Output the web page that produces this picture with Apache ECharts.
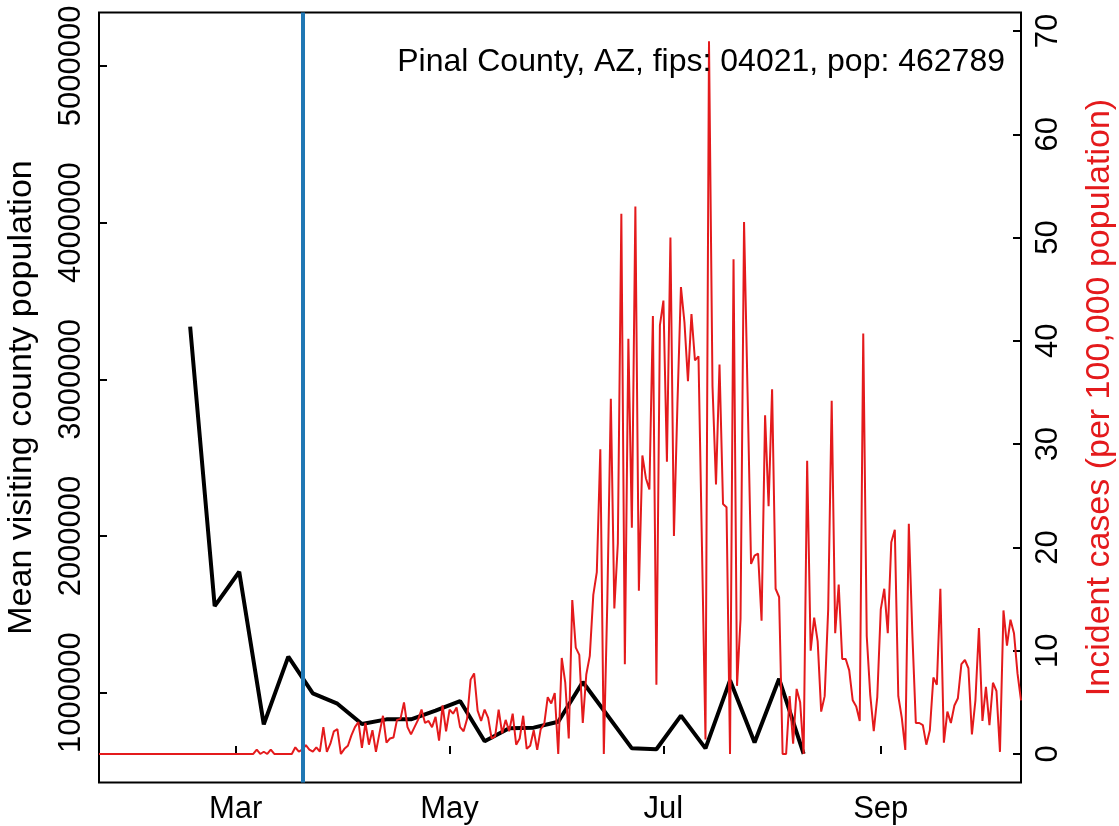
<!DOCTYPE html>
<html><head><meta charset="utf-8">
<script src="https://cdn.jsdelivr.net/npm/echarts@6/dist/echarts.min.js"></script>
<style>html,body{margin:0;padding:0;background:#fff}#c{width:1119px;height:826px}</style>
</head><body><div id="c"></div>
<script>
// ---- data ----
const caseStartDate = '2020-01-22';
const xMinDate = '2020-01-22';
const xMaxDate = '2020-10-11';
const incidentCases = [
 0,0,0,0,0,0,0,0,0,0, 0,0,0,0,0,0,0,0,0,0,
 0,0,0,0,0,0,0,0,0,0, 0,0,0,0,0,0,0,0,0,0,
 0,0,0,0,0,0.43,0,0.22,0,0.43,
 0,0,0,0,0,0,0.65,0.22,0.43,0.86,
 0.43,0.22,0.65,0.22,2.6,0.2,1.0,2.2,2.4,0,
 0.5,0.8,1.8,2.6,3.1,0.6,3.0,0.9,2.3,0.2,
 2.0,3.7,1.1,1.5,1.6,3.3,3.4,5.0,2.6,1.9,
 2.6,3.3,4.3,3.0,3.2,2.6,3.6,1.3,4.7,2.2,
 4.3,3.9,4.5,2.6,2.2,3.4,7.2,7.8,4.2,3.2,
 4.3,3.5,1.5,1.7,4.3,2.0,3.3,2.2,3.9,0.9,
 1.5,3.7,0.5,0.8,2.3,0.4,2.4,2.9,5.5,4.9,
 5.9,0,9.3,6.9,1.5,14.9,10.3,9.6,3.0,7.7,
 9.5,15.4,17.6,29.5,0,14.8,34.4,14.1,20.4,52.3,
 8.7,40.2,21.9,53.0,15.8,28.9,26.7,25.6,42.4,6.7,
 41.5,43.9,28.3,50.0,21.1,33.9,45.2,41.8,36.1,42.6,
 38.1,38.5,20,1.4,69.0,35.6,26.1,37.7,24.2,23.9,
 0,47.9,6.6,13.1,51.5,35,18.4,19.2,19.4,12.9,
 32.8,24.0,35.3,16.0,15.2,0,0,5.6,1.0,6.3,
 5.0,0,28.4,10.0,13.2,10.9,4.1,5.6,14.0,34.2,
 11.7,16.4,9.2,9.2,8.1,5.2,4.6,3.2,40.7,11.4,
 5.7,2.2,5.5,14.0,16.0,11.7,20.5,21.7,5.6,3.5,
 0.4,22.3,11.7,3.0,3.0,2.8,0.9,2.3,7.4,6.7,
 16.0,1.1,4.1,3.0,4.7,5.4,8.7,9.1,8.3,1.9,
 5.2,12.2,3.2,6.5,2.8,6.9,6.1,0.2,13.9,10.5,
 13.0,11.7,7.8,5.2
];
const visitDates = ['2020-02-17','2020-02-24','2020-03-02','2020-03-09','2020-03-16','2020-03-23','2020-03-30',
 '2020-04-06','2020-04-13','2020-04-20','2020-04-27','2020-05-04','2020-05-11','2020-05-18','2020-05-25',
 '2020-06-01','2020-06-08','2020-06-22','2020-06-29','2020-07-06','2020-07-13','2020-07-20','2020-07-27',
 '2020-08-03','2020-08-10'];
const visitValues = [3336000,1553000,1772000,798000,1230000,996000,930000,
 800000,830000,830000,885000,947000,690000,773000,777000,
 815000,1068000,645000,639000,854000,645000,1079000,682000,
 1089000,609000];
const monthTickDates = ['2020-03-01','2020-05-01','2020-07-01','2020-09-01'];
const monthTickLabels = ['Mar','May','Jul','Sep'];
const leftTicks = [1000000,2000000,3000000,4000000,5000000];
const rightTicks = [0,10,20,30,40,50,60,70];
const interventionDate = '2020-03-20';
const titleText = 'Pinal County, AZ, fips: 04021, pop: 462789';
const leftAxisName = 'Mean visiting county population';
const rightAxisName = 'Incident cases (per 100,000 population)';

// ---- build ----
const DAY = 86400000;
const t0 = Date.parse(caseStartDate);
const redData = incidentCases.map((v, i) => [t0 + i * DAY, v]);
const blackData = visitDates.map((d, i) => [Date.parse(d), visitValues[i]]);
const monthTs = monthTickDates.map(d => Date.parse(d));
const FONT = 'Liberation Sans, Arial, sans-serif';

const chart = echarts.init(document.getElementById('c'), null, {renderer: 'canvas'});
chart.setOption({
  animation: false,
  backgroundColor: '#fff',
  grid: {left: 99, right: 98, top: 12.5, bottom: 43.5, show: true, borderColor: '#000', borderWidth: 2,
         containLabel: false, outerBoundsMode: 'none'},
  xAxis: {
    type: 'value', min: Date.parse(xMinDate), max: Date.parse(xMaxDate),
    axisLine: {show: false},
    splitLine: {show: false},
    axisTick: {show: true, inside: true, length: 8, lineStyle: {color: '#000', width: 2}, customValues: monthTs},
    axisLabel: {customValues: monthTs, color: '#000', fontSize: 31, fontFamily: FONT, margin: 11,
      formatter: v => { const i = monthTs.indexOf(v); return i >= 0 ? monthTickLabels[i] : ''; }}
  },
  yAxis: [
    {
      type: 'value', position: 'left', min: 427000, max: 5341000,
      axisLine: {show: false}, splitLine: {show: false},
      axisTick: {show: true, inside: true, length: 8, lineStyle: {color: '#000', width: 2}, customValues: leftTicks},
      axisLabel: {customValues: leftTicks, rotate: 90, color: '#000', fontSize: 31, fontFamily: FONT, margin: 12,
        formatter: v => String(Math.round(v))},
      name: leftAxisName, nameLocation: 'middle', nameGap: 60, nameRotate: 90,
      nameTextStyle: {color: '#000', fontSize: 34, fontFamily: FONT}
    },
    {
      type: 'value', position: 'right', min: -2.76, max: 71.79,
      axisLine: {show: false}, splitLine: {show: false},
      axisTick: {show: true, inside: true, length: 8, lineStyle: {color: '#000', width: 2}, customValues: rightTicks},
      axisLabel: {customValues: rightTicks, rotate: 90, color: '#000', fontSize: 31, fontFamily: FONT, margin: 12,
        formatter: v => String(Math.round(v))},
      name: rightAxisName, nameLocation: 'middle', nameGap: 62, nameRotate: 90,
      nameTextStyle: {color: '#e41a1c', fontSize: 34, fontFamily: FONT}
    }
  ],
  series: [
    {type: 'line', yAxisIndex: 0, data: blackData, symbol: 'none', z: 2,
     lineStyle: {color: '#000', width: 4}},
    {type: 'line', yAxisIndex: 1, data: redData, symbol: 'none', z: 3,
     lineStyle: {color: '#e41a1c', width: 2}},
    {type: 'line', yAxisIndex: 1, data: [], z: 4,
     markLine: {silent: true, symbol: ['none', 'none'], label: {show: false},
       lineStyle: {color: '#1f77b4', width: 4, type: 'solid'},
       data: [{xAxis: Date.parse(interventionDate)}]}}
  ],
  graphic: [{
    type: 'text', right: 1119 - 1005, top: 46, z: 10,
    style: {text: titleText, fill: '#000', font: '32px ' + FONT}
  }]
});
</script></body></html>
